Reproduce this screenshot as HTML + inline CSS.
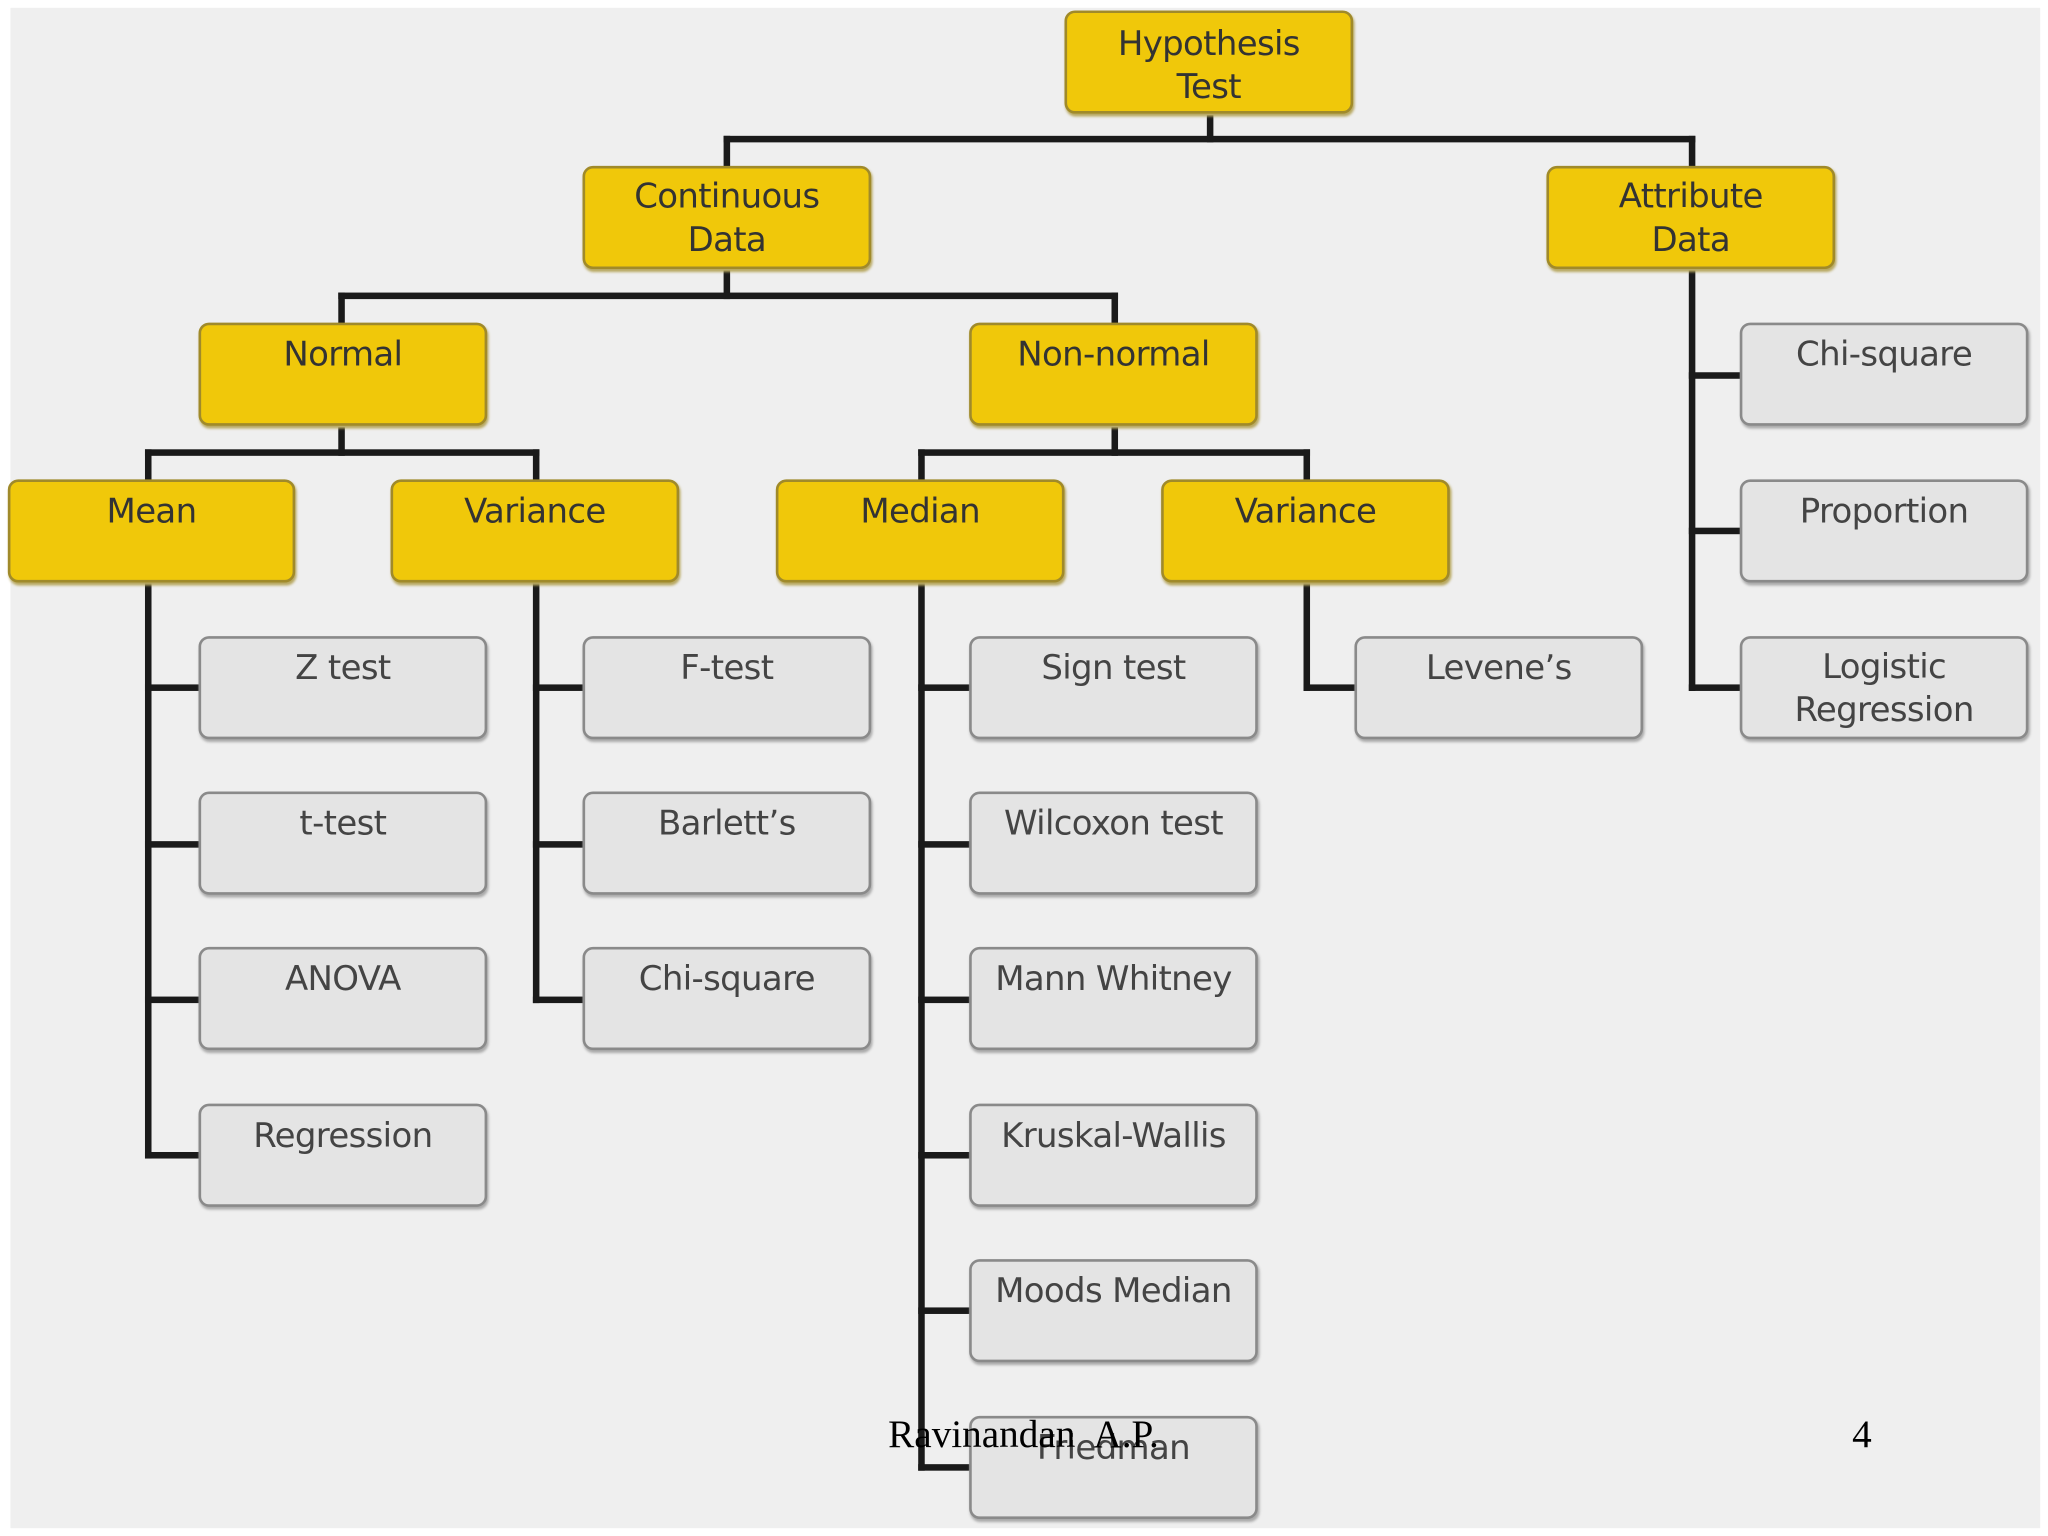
<!DOCTYPE html>
<html><head><meta charset="utf-8"><style>
html,body{margin:0;padding:0;background:#fff;width:2048px;height:1536px;overflow:hidden}
#w{position:absolute;left:0;top:0;width:1568px;height:1176px;transform:scale(1.30612);transform-origin:0 0}
#bg{position:absolute;left:8px;top:6px;width:1554px;height:1164px;background:#efefef}
.b{position:absolute;width:221px;height:79px;border-radius:8px;box-sizing:border-box;font-family:"DejaVu Sans","Liberation Sans",sans-serif;font-size:26px;line-height:33px;text-align:center;padding-top:7px;letter-spacing:-0.5px}
.y{background:#f0c80a;border:2px solid #a08a2a;color:#333;box-shadow:1px 2px 2px #b8a860}
.g{background:#e4e4e4;border:2px solid #8a8a8a;color:#444;box-shadow:1px 2px 2px #aaa}
.l{position:absolute;background:#1a1a1a}
.f{position:absolute;font-family:"Liberation Serif",serif;font-size:30px;color:#000;word-spacing:8px}
</style></head><body><div id="w">
<div id="bg"></div>
<div class="l" style="left:924px;top:88px;width:5px;height:21px"></div>
<div class="l" style="left:554px;top:104px;width:744px;height:5px"></div>
<div class="l" style="left:554px;top:104px;width:5px;height:24px"></div>
<div class="l" style="left:1293px;top:104px;width:5px;height:24px"></div>
<div class="l" style="left:554px;top:207px;width:5px;height:22px"></div>
<div class="l" style="left:259px;top:224px;width:597px;height:5px"></div>
<div class="l" style="left:259px;top:224px;width:5px;height:24px"></div>
<div class="l" style="left:851px;top:224px;width:5px;height:24px"></div>
<div class="l" style="left:259px;top:327px;width:5px;height:22px"></div>
<div class="l" style="left:111px;top:344px;width:302px;height:5px"></div>
<div class="l" style="left:111px;top:344px;width:5px;height:24px"></div>
<div class="l" style="left:408px;top:344px;width:5px;height:24px"></div>
<div class="l" style="left:851px;top:327px;width:5px;height:22px"></div>
<div class="l" style="left:703px;top:344px;width:300px;height:5px"></div>
<div class="l" style="left:703px;top:344px;width:5px;height:24px"></div>
<div class="l" style="left:998px;top:344px;width:5px;height:24px"></div>
<div class="l" style="left:111px;top:446px;width:5px;height:441px"></div>
<div class="l" style="left:408px;top:446px;width:5px;height:322px"></div>
<div class="l" style="left:703px;top:446px;width:5px;height:680px"></div>
<div class="l" style="left:998px;top:446px;width:5px;height:83px"></div>
<div class="l" style="left:1293px;top:207px;width:5px;height:322px"></div>
<div class="l" style="left:111px;top:524px;width:42px;height:5px"></div>
<div class="l" style="left:111px;top:644px;width:42px;height:5px"></div>
<div class="l" style="left:111px;top:763px;width:42px;height:5px"></div>
<div class="l" style="left:111px;top:882px;width:42px;height:5px"></div>
<div class="l" style="left:408px;top:524px;width:40px;height:5px"></div>
<div class="l" style="left:408px;top:644px;width:40px;height:5px"></div>
<div class="l" style="left:408px;top:763px;width:40px;height:5px"></div>
<div class="l" style="left:703px;top:524px;width:40px;height:5px"></div>
<div class="l" style="left:703px;top:644px;width:40px;height:5px"></div>
<div class="l" style="left:703px;top:763px;width:40px;height:5px"></div>
<div class="l" style="left:703px;top:882px;width:40px;height:5px"></div>
<div class="l" style="left:703px;top:1001px;width:40px;height:5px"></div>
<div class="l" style="left:703px;top:1121px;width:40px;height:5px"></div>
<div class="l" style="left:998px;top:524px;width:40px;height:5px"></div>
<div class="l" style="left:1293px;top:285px;width:40px;height:5px"></div>
<div class="l" style="left:1293px;top:404px;width:40px;height:5px"></div>
<div class="l" style="left:1293px;top:524px;width:40px;height:5px"></div>
<div class="b y" style="left:815px;top:8px;padding-top:8px">Hypothesis<br>Test</div>
<div class="b y" style="left:446px;top:127px;padding-top:6px">Continuous<br>Data</div>
<div class="b y" style="left:1184px;top:127px;padding-top:6px">Attribute<br>Data</div>
<div class="b y" style="left:152px;top:247px">Normal</div>
<div class="b y" style="left:742px;top:247px">Non-normal</div>
<div class="b y" style="left:6px;top:367px;width:220px">Mean</div>
<div class="b y" style="left:299px;top:367px">Variance</div>
<div class="b y" style="left:594px;top:367px">Median</div>
<div class="b y" style="left:889px;top:367px">Variance</div>
<div class="b g" style="left:152px;top:487px">Z test</div>
<div class="b g" style="left:152px;top:606px">t-test</div>
<div class="b g" style="left:152px;top:725px">ANOVA</div>
<div class="b g" style="left:152px;top:845px">Regression</div>
<div class="b g" style="left:446px;top:487px">F-test</div>
<div class="b g" style="left:446px;top:606px">Barlett’s</div>
<div class="b g" style="left:446px;top:725px">Chi-square</div>
<div class="b g" style="left:742px;top:487px">Sign test</div>
<div class="b g" style="left:742px;top:606px">Wilcoxon test</div>
<div class="b g" style="left:742px;top:725px">Mann Whitney</div>
<div class="b g" style="left:742px;top:845px">Kruskal-Wallis</div>
<div class="b g" style="left:742px;top:964px">Moods Median</div>
<div class="b g" style="left:742px;top:1084px">Friedman</div>
<div class="b g" style="left:1037px;top:487px">Levene’s</div>
<div class="b g" style="left:1332px;top:247px">Chi-square</div>
<div class="b g" style="left:1332px;top:367px">Proportion</div>
<div class="b g" style="left:1332px;top:487px;padding-top:6px">Logistic<br>Regression</div>
<div class="f" style="left:680px;top:1082px">Ravinandan A.P.</div>
<div class="f" style="left:1418px;top:1082px">4</div>
</div></body></html>
